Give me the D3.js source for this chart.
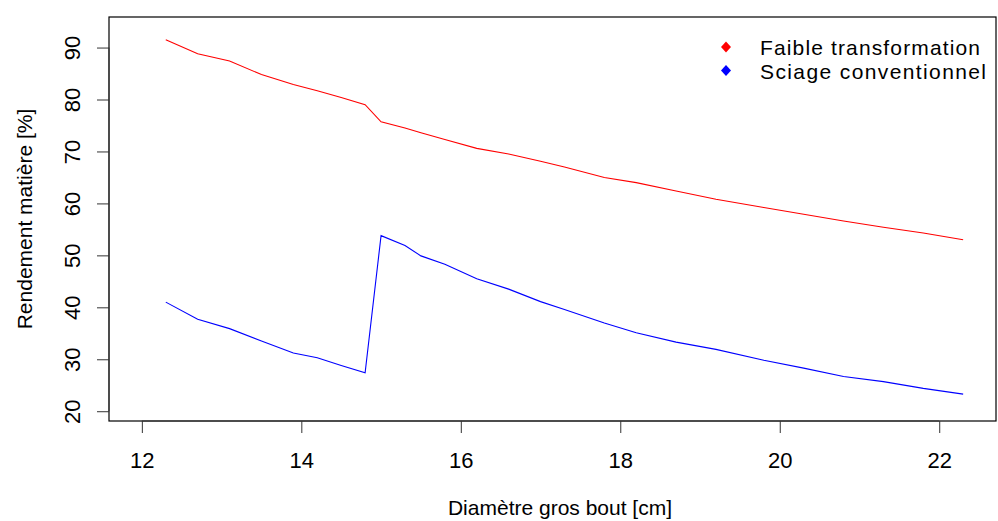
<!DOCTYPE html>
<html><head><meta charset="utf-8">
<script src="https://cdn.jsdelivr.net/npm/d3@7"></script>
<style>
html,body{margin:0;padding:0;background:#fff;}
text{font-family:"Liberation Sans",Arial,sans-serif;fill:#000;}
</style></head>
<body>
<svg id="chart" width="998" height="521"></svg>
<script>
const diametre = [12.3,12.7,13.1,13.5,13.9,14.2,14.5,14.8,15.0,15.3,15.5,15.8,16.2,16.6,17.0,17.3,17.8,18.2,18.7,19.2,19.8,20.3,20.8,21.3,21.8,22.3];
const faible   = [91.5,88.8,87.4,84.8,82.9,81.7,80.4,79.0,75.7,74.5,73.6,72.3,70.6,69.5,68.1,67.0,65.0,64.0,62.4,60.8,59.2,57.9,56.6,55.4,54.3,53.0];
const sciage   = [41.0,37.7,35.9,33.5,31.2,30.3,28.8,27.4,53.8,51.9,49.9,48.3,45.5,43.5,41.1,39.6,37.0,35.1,33.3,31.9,29.8,28.3,26.7,25.7,24.4,23.3];
const xTicks = [12,14,16,18,20,22];
const yTicks = [20,30,40,50,60,70,80,90];
const seriesNames = ["Faible transformation","Sciage conventionnel"];
const seriesColors = ["#ff0000","#0000ff"];
const xTitle = "Diamètre gros bout [cm]";
const yTitle = "Rendement matière [%]";

const svg = d3.select("#chart");
svg.append("rect").attr("width",998).attr("height",521).attr("fill","#fff");
const L=109,R=996,T=17,B=421;
const x = d3.scaleLinear().domain([11.588,22.712]).range([L,R]);
const y = d3.scaleLinear().domain([18.12,95.88]).range([B,T]);

// lines
const series=[faible,sciage];
series.forEach((s,i)=>{
  const line=d3.line().x((d,j)=>x(diametre[j])).y(d=>y(d));
  svg.append("path").datum(s).attr("d",line).attr("fill","none")
    .attr("stroke",seriesColors[i]).attr("stroke-width",1.1);
});

// box
svg.append("rect").attr("x",L).attr("y",T).attr("width",R-L).attr("height",B-T)
  .attr("fill","none").attr("stroke","#000").attr("stroke-width",1.2);

// x axis
const xa = svg.append("g").attr("transform",`translate(0,${B})`)
  .call(d3.axisBottom(x).tickValues(xTicks).tickSize(12).tickFormat(d3.format("d")));
xa.select(".domain").attr("d",`M${x(xTicks[0])},0H${x(xTicks[xTicks.length-1])}`).attr("stroke","#333");
xa.selectAll(".tick line").attr("stroke","#333");
xa.selectAll(".tick text").attr("font-size",22).attr("y",31).attr("dy","0.71em")
  .style("font-family","'Liberation Sans',Arial,sans-serif").attr("fill","#000");

// y axis
const ya = svg.append("g").attr("transform",`translate(${L},0)`)
  .call(d3.axisLeft(y).tickValues(yTicks).tickSize(12).tickFormat(d3.format("d")));
ya.select(".domain").attr("d",`M0,${y(yTicks[0])}V${y(yTicks[yTicks.length-1])}`).attr("stroke","#333");
ya.selectAll(".tick line").attr("stroke","#333");
ya.selectAll(".tick text").attr("font-size",22).attr("x",null).attr("dy",null)
  .attr("text-anchor","middle").attr("transform","translate(-29,0) rotate(-90)")
  .style("font-family","'Liberation Sans',Arial,sans-serif").attr("fill","#000");

// titles
svg.append("text").attr("x",560).attr("y",515).attr("text-anchor","middle")
  .attr("font-size",21).text(xTitle);
svg.append("text").attr("transform",`translate(32,${(T+B)/2}) rotate(-90)`).attr("text-anchor","middle")
  .attr("font-size",21).text(yTitle);

// legend
const diamond = "M0,-5.5L5,0L0,5.5L-5,0Z";
seriesNames.forEach((n,i)=>{
  const yy = 47 + i*23.5;
  svg.append("path").attr("d",diamond).attr("transform",`translate(726,${yy})`).attr("fill",seriesColors[i]);
  svg.append("text").attr("x",760).attr("y",yy+8).attr("font-size",21)
    .attr("textLength",i===0?220:226).attr("lengthAdjust","spacing").text(n);
});
</script>
</body></html>
